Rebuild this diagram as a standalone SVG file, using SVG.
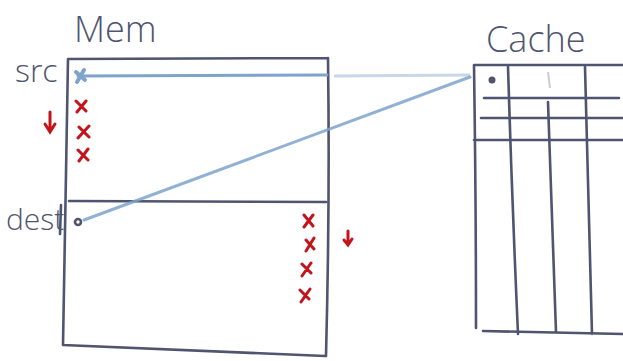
<svg xmlns="http://www.w3.org/2000/svg" width="623" height="361" viewBox="0 0 623 361">
<style>
.ink{fill:none;stroke:#4f5470;stroke-width:2.6;stroke-linecap:round;stroke-linejoin:round}
.lbl{font-family:"Open Sans","DejaVu Sans",sans-serif;font-weight:300;fill:#4f5470}
.red{fill:none;stroke:#c4141b;stroke-width:3;stroke-linecap:round}
.blue{fill:none;stroke:#7ea3cc;stroke-width:3;stroke-linecap:round}
</style>
<rect width="623" height="361" fill="#fff"/>
<g id="mem">
<text class="lbl" x="74" y="42" font-size="36">Mem</text>
<path class="ink" d="M69 59 L328 58 M68 59 Q66 200 63 345 M63 345 L325 356 M328 58 Q330 200 326 356 M69 201 L326 202"/>
</g>
<g id="src">
<text class="lbl" x="15" y="82" font-size="32">src</text>
</g>
<g id="dest">
<text class="lbl" x="6" y="230" font-size="30">dest</text>
<path class="ink" d="M61 205 L60 234"/>
<circle cx="78" cy="222" r="3" class="ink" stroke-width="2.2"/>
</g>
<g id="cache">
<text class="lbl" x="486" y="52" font-size="36">Cache</text>
<path class="ink" d="M474 65 L623 65 M474 65 Q476 200 476 328 M483 331 L623 334 M484 98 L619 98 M481 118 L623 118 M474 140 L623 140 M508 67 Q512 200 518 334 M548 102 Q552 220 556 332 M585 67 Q589 200 592 334"/>
<path d="M548 72 L550 88" stroke="#ccc" stroke-width="2" fill="none"/>
<circle cx="492" cy="80" r="3.5" fill="#4f5470"/>
</g>
<g id="marks">
<path class="red" d="M76 101 L86 111 M86 101 L77 112 M79 127 L89 137 M89 126 L78 138 M78 150 L88 160 M88 149 L79 161 M304 215 L313 226 M313 215 L304 227 M306 240 L314 249 M314 238 L306 251 M302 264 L311 273 M311 263 L302 276 M300 290 L309 299 M310 289 L301 302"/>
<path class="red" d="M50 112 L50 130 M45 124 L50 132 L55 124"/>
<path class="red" d="M348 231 L348 244 M344 240 L348 245 L352 239"/>
</g>
<g id="connectors">
<path class="blue" d="M78 76 L327 75"/>
<path d="M334 76 L470 75" stroke="#c9d6e6" stroke-width="3" fill="none"/>
<path class="blue" d="M84 220 L470 77" stroke-width="2.5" opacity="0.85"/>
<path d="M76 72 L85 80 M84 70 L77 82" stroke="#7ea3cc" stroke-width="4" stroke-linecap="round"/>
</g>
</svg>
